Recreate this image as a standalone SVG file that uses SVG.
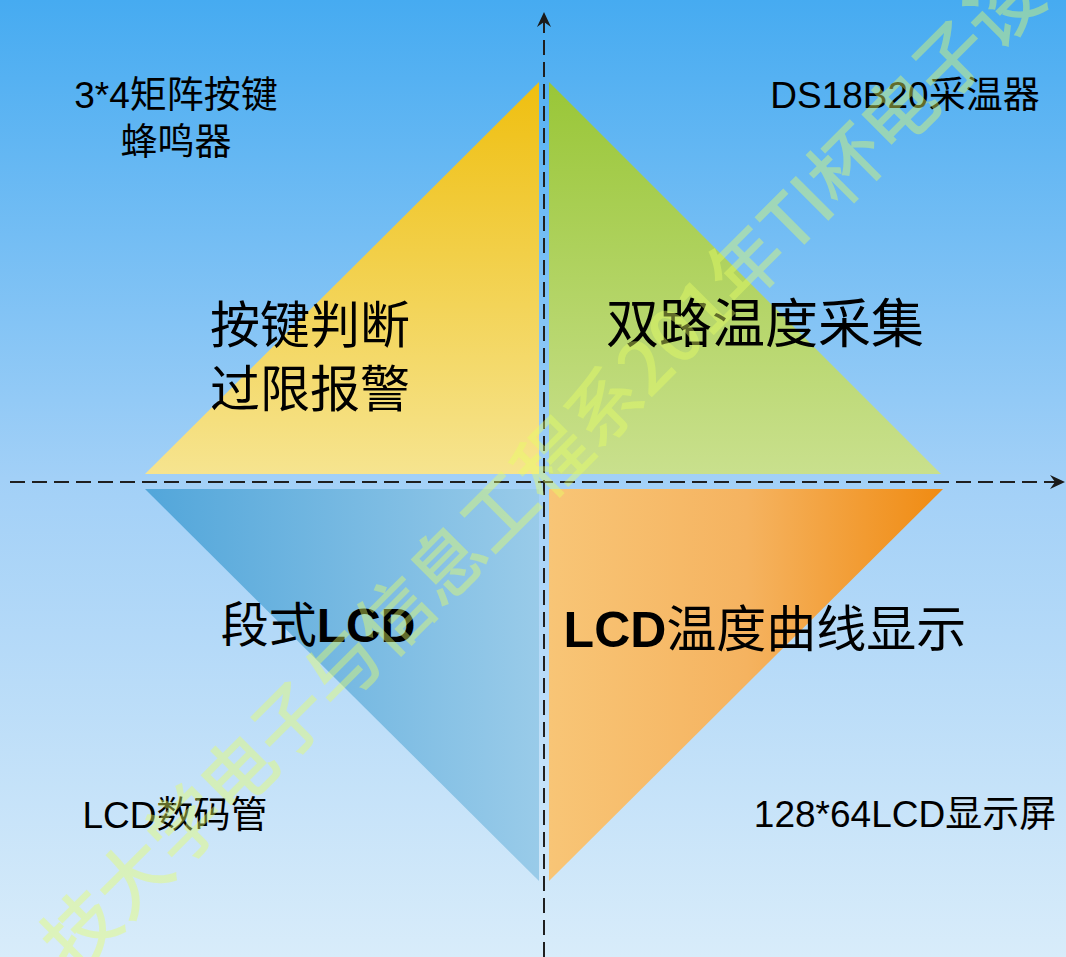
<svg xmlns="http://www.w3.org/2000/svg" width="1066" height="957" viewBox="0 0 1066 957">
<defs>
<linearGradient id="bg" x1="0" y1="0" x2="0" y2="1">
<stop offset="0" stop-color="#46ABF1"/>
<stop offset="0.5" stop-color="#A2D0F7"/>
<stop offset="1" stop-color="#D8ECFA"/>
</linearGradient>
<linearGradient id="gY" gradientUnits="userSpaceOnUse" x1="0" y1="82" x2="0" y2="474">
<stop offset="0" stop-color="#EFBF10"/>
<stop offset="1" stop-color="#F6E48F"/>
</linearGradient>
<linearGradient id="gG" gradientUnits="userSpaceOnUse" x1="0" y1="82" x2="0" y2="474">
<stop offset="0" stop-color="#99C637"/>
<stop offset="1" stop-color="#C9E08D"/>
</linearGradient>
<linearGradient id="gB" gradientUnits="userSpaceOnUse" x1="145" y1="0" x2="539" y2="0">
<stop offset="0" stop-color="#52A6DA"/>
<stop offset="1" stop-color="#99CBE9"/>
</linearGradient>
<linearGradient id="gO" gradientUnits="userSpaceOnUse" x1="549" y1="0" x2="943" y2="0">
<stop offset="0" stop-color="#F8C576"/>
<stop offset="0.5" stop-color="#F5B360"/>
<stop offset="1" stop-color="#F08B12"/>
</linearGradient>
<marker id="arr" viewBox="-16 -8 17 16" refX="0" refY="0" markerWidth="17" markerHeight="16" orient="auto" markerUnits="userSpaceOnUse">
<path d="M0,0 L-15,-7 L-10,0 L-15,7 Z" fill="#1a1a1a"/>
</marker>
<style>
.sm{font-family:"Liberation Sans","Noto Sans CJK SC",sans-serif;font-size:37px;fill:#000;text-anchor:middle}
.big{font-family:"Liberation Sans","Noto Sans CJK SC",sans-serif;font-size:50px;fill:#000;text-anchor:middle}
.b{font-weight:bold}
.axis{stroke:#1f1f1f;stroke-width:2;stroke-dasharray:15 7;fill:none;marker-end:url(#arr)}
.wm{font-family:"Noto Sans CJK SC",sans-serif;font-size:74px;font-weight:500;fill:#E6FF64;fill-opacity:0.42}
</style>
</defs>
<rect x="0" y="0" width="1066" height="957" fill="url(#bg)"/>

<g id="node-keys">
<polygon points="539,82 539,474 145,474" fill="url(#gY)"/>
<text class="big" x="310" y="343">按键判断</text>
<text class="big" x="310" y="407">过限报警</text>
</g>
<g id="node-temp">
<polygon points="549,82 549,474 941,474" fill="url(#gG)"/>
<text class="big" x="765" y="343" style="font-size:53px">双路温度采集</text>
</g>
<g id="node-seglcd">
<polygon points="145,489 539,489 539,881" fill="url(#gB)"/>
<text class="big" x="318" y="642" style="font-size:48px">段式<tspan class="b">LCD</tspan></text>
</g>
<g id="node-curve">
<polygon points="549,489 943,489 549,881" fill="url(#gO)"/>
<text class="big" x="765" y="647"><tspan class="b">LCD</tspan>温度曲线显示</text>
</g>

<g id="label-keypad">
<text class="sm" x="176" y="108">3*4矩阵按键</text>
<text class="sm" x="176" y="155">蜂鸣器</text>
</g>
<g id="label-ds18b20">
<text class="sm" x="905" y="108">DS18B20采温器</text>
</g>
<g id="label-lcdtube">
<text class="sm" x="175" y="828">LCD数码管</text>
</g>
<g id="label-lcd12864">
<text class="sm" x="905" y="827">128*64LCD显示屏</text>
</g>

<g id="connectors">
<line class="axis" x1="544" y1="957" x2="544" y2="12"/>
<line class="axis" x1="10" y1="482" x2="1065" y2="482"/>
</g>

<text class="wm" transform="translate(74,975) rotate(-45)">技大学电子与信息工程系201年TI杯电子设</text>
</svg>
